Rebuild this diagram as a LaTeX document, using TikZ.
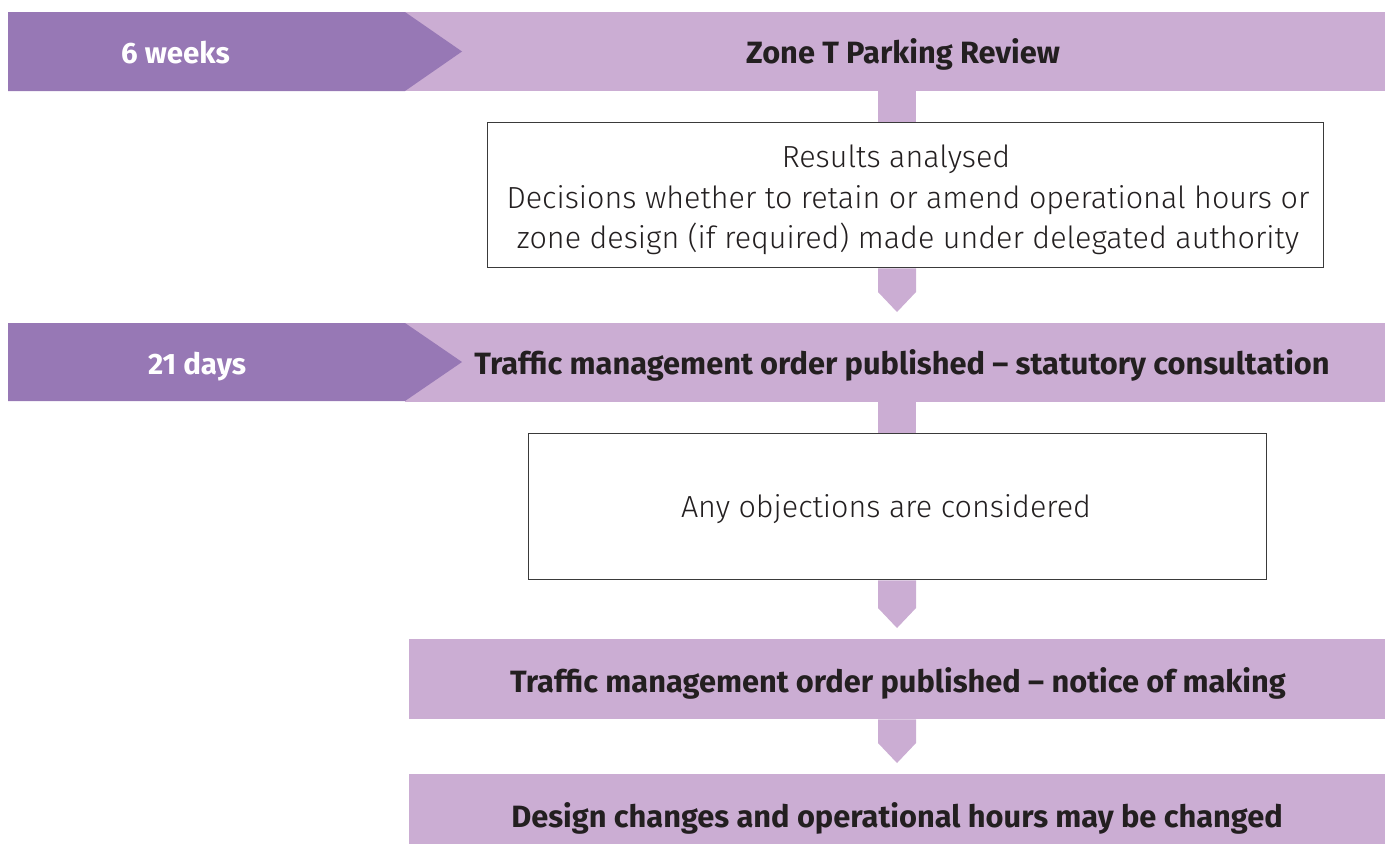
\documentclass[tikz,border=0pt]{standalone}
\usepackage{fontspec}
\setmainfont{Fira Sans}
\newfontfamily\lightfont{Fira Sans Light}
\usetikzlibrary{calc}
\definecolor{darkp}{HTML}{9778B5}
\definecolor{lightp}{HTML}{CBADD3}
\definecolor{txtc}{HTML}{231F20}
\definecolor{boxline}{HTML}{3A3A3A}
\tikzset{
  band/.style={fill=lightp, draw=none, inner sep=0pt, anchor=north west},
  tag/.style={fill=darkp, draw=none},
  bandtext/.style={text=txtc, font=\fontsize{30.8}{34}\selectfont\bfseries, anchor=base, inner sep=0pt},
  tagtext/.style={text=white, font=\fontsize{29.5}{34}\selectfont\bfseries, anchor=base, inner sep=0pt},
  infobox/.style={draw=boxline, line width=1.3pt, fill=white, inner sep=0pt, anchor=north west},
  infotext/.style={text=txtc, font=\lightfont\fontsize{30.5}{40}\selectfont, anchor=base, inner sep=0pt},
  stem/.style={fill=lightp, draw=none}
}
\newcommand{\flowdown}[2]{%
  \fill[stem] ([xshift=-19pt]cx |- #1.south) -- ([xshift=19pt]cx |- #1.south)
    -- ([xshift=19pt,yshift=31pt]cx |- #2.north) -- ([yshift=11pt]cx |- #2.north)
    -- ([xshift=-19pt,yshift=31pt]cx |- #2.north) -- cycle;}
\newcommand{\flowbar}[2]{%
  \fill[stem] ([xshift=-19pt]cx |- #1.south) rectangle ([xshift=19pt]cx |- #2.north);}
\begin{document}
\begin{tikzpicture}[x=1pt,y=-1pt]
\useasboundingbox (0,0) rectangle (1391,844);
\coordinate (cx) at (897,0);

% bands
\node[band, minimum width=980pt, minimum height=79pt] (b1) at (405,12) {};
\node[band, minimum width=980pt, minimum height=79pt] (b2) at (405,323) {};
\node[band, minimum width=976pt, minimum height=80pt] (b3) at (409,639) {};
\node[band, minimum width=976pt, minimum height=70pt] (b4) at (409,774) {};

% time tags
\fill[tag] (8,12) -- (405,12) -- (462,51.5) -- (405,91) -- (8,91) -- cycle;
\fill[tag] (8,323) -- (405,323) -- (462,362) -- (405,401) -- (8,401) -- cycle;
\node[tagtext] (t1) at (175.5,63) {6 weeks};
\node[tagtext] (t2) at (197,374) {21 days};

% boxes
\node[infobox, minimum width=836pt, minimum height=145pt] (x1) at (487,122) {};
\node[infobox, minimum width=738pt, minimum height=146pt] (x2) at (528,433) {};

% connectors
\flowbar{b1}{x1}
\flowdown{x1}{b2}
\flowbar{b2}{x2}
\flowdown{x2}{b3}
\flowdown{b3}{b4}

% texts
\node[bandtext] (l1) at (903,63) {Zone T Parking Review};
\node[bandtext] (l2) at (902,374) {Traffic management order published -- statutory consultation};
\node[bandtext] (l3) at (898,692) {Traffic management order published -- notice of making};
\node[bandtext] (l4) at (897,827) {Design changes and operational hours may be changed};

\node[infotext] (r1) at (896,167) {Results analysed};
\node[infotext] (r2) at (908,208) {Decisions whether to retain or amend operational hours or};
\node[infotext] (r3) at (908,248) {zone design (if required) made under delegated authority};
\node[infotext] (o1) at (886,517) {Any objections are considered};
\end{tikzpicture}
\end{document}
